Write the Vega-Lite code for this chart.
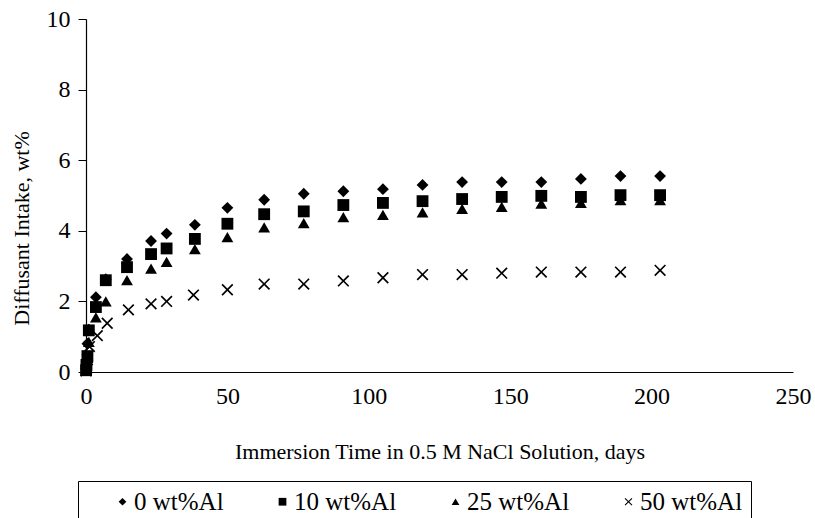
{
  "$schema": "https://vega.github.io/schema/vega-lite/v6.json",
  "autosize": {"type": "none"},
  "width": 707,
  "height": 353,
  "padding": {"left": 86, "top": 19, "right": 22, "bottom": 146},
  "background": "white",
  "config": {
    "view": {"stroke": null},
    "font": "Liberation Serif",
    "axis": {"domainColor": "black", "tickColor": "black", "labelColor": "black", "titleColor": "black", "grid": false, "labelFont": "Liberation Serif", "titleFont": "Liberation Serif", "titleFontWeight": "normal", "domainWidth": 1.2, "labelFlush": false}
  },
  "data": {"values": [
    {"day": 0.04, "v": 0.1, "s": "0 wt%Al"},
    {"day": 0.17, "v": 0.3, "s": "0 wt%Al"},
    {"day": 0.5, "v": 0.8, "s": "0 wt%Al"},
    {"day": 1, "v": 1.2, "s": "0 wt%Al"},
    {"day": 3.5, "v": 2.12, "s": "0 wt%Al"},
    {"day": 7, "v": 2.63, "s": "0 wt%Al"},
    {"day": 14.5, "v": 3.2, "s": "0 wt%Al"},
    {"day": 23, "v": 3.71, "s": "0 wt%Al"},
    {"day": 28.5, "v": 3.92, "s": "0 wt%Al"},
    {"day": 38.5, "v": 4.17, "s": "0 wt%Al"},
    {"day": 50, "v": 4.65, "s": "0 wt%Al"},
    {"day": 63, "v": 4.88, "s": "0 wt%Al"},
    {"day": 77, "v": 5.05, "s": "0 wt%Al"},
    {"day": 91, "v": 5.12, "s": "0 wt%Al"},
    {"day": 105, "v": 5.18, "s": "0 wt%Al"},
    {"day": 119, "v": 5.3, "s": "0 wt%Al"},
    {"day": 133, "v": 5.38, "s": "0 wt%Al"},
    {"day": 147, "v": 5.38, "s": "0 wt%Al"},
    {"day": 161, "v": 5.38, "s": "0 wt%Al"},
    {"day": 175, "v": 5.47, "s": "0 wt%Al"},
    {"day": 189, "v": 5.55, "s": "0 wt%Al"},
    {"day": 203, "v": 5.55, "s": "0 wt%Al"},
    {"day": 0.04, "v": 0.05, "s": "10 wt%Al"},
    {"day": 0.17, "v": 0.2, "s": "10 wt%Al"},
    {"day": 0.5, "v": 0.45, "s": "10 wt%Al"},
    {"day": 1, "v": 1.18, "s": "10 wt%Al"},
    {"day": 3.5, "v": 1.84, "s": "10 wt%Al"},
    {"day": 7, "v": 2.6, "s": "10 wt%Al"},
    {"day": 14.5, "v": 2.97, "s": "10 wt%Al"},
    {"day": 23, "v": 3.34, "s": "10 wt%Al"},
    {"day": 28.5, "v": 3.5, "s": "10 wt%Al"},
    {"day": 38.5, "v": 3.77, "s": "10 wt%Al"},
    {"day": 50, "v": 4.2, "s": "10 wt%Al"},
    {"day": 63, "v": 4.47, "s": "10 wt%Al"},
    {"day": 77, "v": 4.55, "s": "10 wt%Al"},
    {"day": 91, "v": 4.73, "s": "10 wt%Al"},
    {"day": 105, "v": 4.79, "s": "10 wt%Al"},
    {"day": 119, "v": 4.84, "s": "10 wt%Al"},
    {"day": 133, "v": 4.9, "s": "10 wt%Al"},
    {"day": 147, "v": 4.96, "s": "10 wt%Al"},
    {"day": 161, "v": 4.99, "s": "10 wt%Al"},
    {"day": 175, "v": 4.96, "s": "10 wt%Al"},
    {"day": 189, "v": 5.01, "s": "10 wt%Al"},
    {"day": 203, "v": 5.01, "s": "10 wt%Al"},
    {"day": 0.04, "v": 0.05, "s": "25 wt%Al"},
    {"day": 0.17, "v": 0.15, "s": "25 wt%Al"},
    {"day": 0.5, "v": 0.4, "s": "25 wt%Al"},
    {"day": 1, "v": 0.85, "s": "25 wt%Al"},
    {"day": 3.5, "v": 1.55, "s": "25 wt%Al"},
    {"day": 7, "v": 2.0, "s": "25 wt%Al"},
    {"day": 14.5, "v": 2.6, "s": "25 wt%Al"},
    {"day": 23, "v": 2.93, "s": "25 wt%Al"},
    {"day": 28.5, "v": 3.12, "s": "25 wt%Al"},
    {"day": 38.5, "v": 3.48, "s": "25 wt%Al"},
    {"day": 50, "v": 3.82, "s": "25 wt%Al"},
    {"day": 63, "v": 4.1, "s": "25 wt%Al"},
    {"day": 77, "v": 4.22, "s": "25 wt%Al"},
    {"day": 91, "v": 4.39, "s": "25 wt%Al"},
    {"day": 105, "v": 4.45, "s": "25 wt%Al"},
    {"day": 119, "v": 4.52, "s": "25 wt%Al"},
    {"day": 133, "v": 4.62, "s": "25 wt%Al"},
    {"day": 147, "v": 4.68, "s": "25 wt%Al"},
    {"day": 161, "v": 4.77, "s": "25 wt%Al"},
    {"day": 175, "v": 4.79, "s": "25 wt%Al"},
    {"day": 189, "v": 4.87, "s": "25 wt%Al"},
    {"day": 203, "v": 4.87, "s": "25 wt%Al"},
    {"day": 0.04, "v": 0.03, "s": "50 wt%Al"},
    {"day": 0.17, "v": 0.1, "s": "50 wt%Al"},
    {"day": 0.5, "v": 0.35, "s": "50 wt%Al"},
    {"day": 1.2, "v": 0.72, "s": "50 wt%Al"},
    {"day": 4, "v": 1.03, "s": "50 wt%Al"},
    {"day": 7.5, "v": 1.38, "s": "50 wt%Al"},
    {"day": 15, "v": 1.76, "s": "50 wt%Al"},
    {"day": 23, "v": 1.93, "s": "50 wt%Al"},
    {"day": 28.5, "v": 2.0, "s": "50 wt%Al"},
    {"day": 38, "v": 2.18, "s": "50 wt%Al"},
    {"day": 50, "v": 2.33, "s": "50 wt%Al"},
    {"day": 63, "v": 2.49, "s": "50 wt%Al"},
    {"day": 77, "v": 2.49, "s": "50 wt%Al"},
    {"day": 91, "v": 2.58, "s": "50 wt%Al"},
    {"day": 105, "v": 2.67, "s": "50 wt%Al"},
    {"day": 119, "v": 2.76, "s": "50 wt%Al"},
    {"day": 133, "v": 2.76, "s": "50 wt%Al"},
    {"day": 147, "v": 2.8, "s": "50 wt%Al"},
    {"day": 161, "v": 2.83, "s": "50 wt%Al"},
    {"day": 175, "v": 2.83, "s": "50 wt%Al"},
    {"day": 189, "v": 2.83, "s": "50 wt%Al"},
    {"day": 203, "v": 2.88, "s": "50 wt%Al"}
  ]},
  "mark": {"type": "point", "filled": true, "opacity": 1, "size": 140, "color": "black"},
  "encoding": {
    "x": {
      "field": "day", "type": "quantitative",
      "scale": {"domain": [0, 250], "nice": false},
      "axis": {"values": [0, 50, 100, 150, 200, 250], "ticks": false, "labelPadding": 12, "labelFontSize": 24, "title": "Immersion Time in 0.5 M NaCl Solution, days", "titleFontSize": 22, "titlePadding": 33}
    },
    "y": {
      "field": "v", "type": "quantitative",
      "scale": {"domain": [0, 10], "nice": false},
      "axis": {"values": [0, 2, 4, 6, 8, 10], "tickSize": 8, "labelPadding": 8, "labelFontSize": 24, "title": "Diffusant Intake, wt%", "titleFontSize": 22, "titleX": -53, "titleY": 209}
    },
    "shape": {
      "field": "s", "type": "nominal",
      "scale": {"domain": ["0 wt%Al", "10 wt%Al", "25 wt%Al", "50 wt%Al"], "range": ["diamond", "square", "triangle-up", "M0,-0.2L0.8,-1L1,-0.8L0.2,0L1,0.8L0.8,1L0,0.2L-0.8,1L-1,0.8L-0.2,0L-1,-0.8L-0.8,-1Z"]},
      "legend": {
        "orient": "none", "legendX": -8, "legendY": 462, "direction": "horizontal", "columns": 4,
        "title": " ", "titleOrient": "left", "titlePadding": 24, "titleFontSize": 20,
        "strokeColor": "black", "padding": 8, "fillColor": "white",
        "symbolSize": 60, "symbolFillColor": "black", "symbolStrokeColor": "black", "symbolStrokeWidth": 0,
        "labelFontSize": 25, "labelFont": "Liberation Serif", "labelColor": "black", "labelOffset": -1, "columnPadding": 46
      }
    }
  }
}
